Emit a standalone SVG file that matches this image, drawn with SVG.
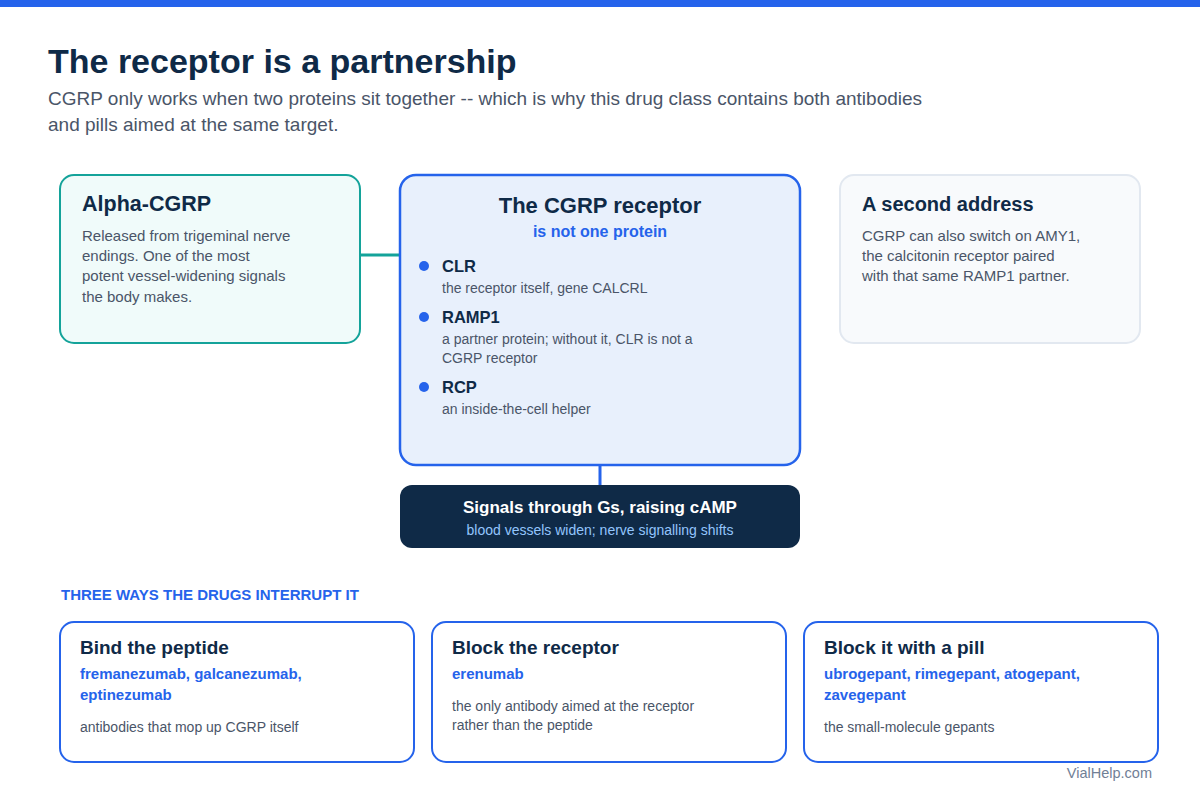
<svg xmlns="http://www.w3.org/2000/svg" width="1200" height="800" viewBox="0 0 1200 800">
<style>
text{font-family:"Liberation Sans",Arial,sans-serif}
.h{font-weight:bold;fill:#0f2a47}
.b{fill:#4a5568;font-size:15px}
.s{fill:#4a5568;font-size:14px}
.bl{fill:#2563eb;font-weight:bold}
.card{fill:#ffffff;stroke:#2563eb;stroke-width:2}
</style>
<rect x="0" y="0" width="1200" height="800" fill="#ffffff"/>
<rect x="0" y="0" width="1200" height="7" fill="#2563eb"/>
<text x="48" y="73" class="h" font-size="34">The receptor is a partnership</text>
<text x="48" y="105" fill="#4a5568" font-size="19">CGRP only works when two proteins sit together -- which is why this drug class contains both antibodies</text>
<text x="48" y="131" fill="#4a5568" font-size="19">and pills aimed at the same target.</text>

<g id="connectors">
<line x1="360" y1="255" x2="400" y2="255" stroke="#14a39a" stroke-width="3"/>
<line x1="600" y1="465" x2="600" y2="485" stroke="#2563eb" stroke-width="3"/>
</g>

<g id="alpha-cgrp">
<rect x="60" y="175" width="300" height="168" rx="14" fill="#f0fbfa" stroke="#14a39a" stroke-width="2"/>
<text x="82" y="211" class="h" font-size="21.5">Alpha-CGRP</text>
<text x="82" y="241" class="b">Released from trigeminal nerve</text>
<text x="82" y="261" class="b">endings. One of the most</text>
<text x="82" y="281" class="b">potent vessel-widening signals</text>
<text x="82" y="302" class="b">the body makes.</text>
</g>

<g id="receptor">
<rect x="400" y="175" width="400" height="290" rx="16" fill="#e8f0fc" stroke="#2563eb" stroke-width="2.5"/>
<text x="600" y="213" class="h" font-size="22" text-anchor="middle">The CGRP receptor</text>
<text x="600" y="237" class="bl" font-size="16" text-anchor="middle">is not one protein</text>
<circle cx="424" cy="266" r="5" fill="#2563eb"/>
<text x="442" y="272" class="h" font-size="16.5">CLR</text>
<text x="442" y="293" class="s">the receptor itself, gene CALCRL</text>
<circle cx="424" cy="317" r="5" fill="#2563eb"/>
<text x="442" y="323" class="h" font-size="16.5">RAMP1</text>
<text x="442" y="344" class="s">a partner protein; without it, CLR is not a</text>
<text x="442" y="363" class="s">CGRP receptor</text>
<circle cx="424" cy="387" r="5" fill="#2563eb"/>
<text x="442" y="393" class="h" font-size="16.5">RCP</text>
<text x="442" y="414" class="s">an inside-the-cell helper</text>
</g>

<g id="signal">
<rect x="400" y="485" width="400" height="63" rx="12" fill="#0f2a47"/>
<text x="600" y="513" fill="#ffffff" font-weight="bold" font-size="17" text-anchor="middle">Signals through Gs, raising cAMP</text>
<text x="600" y="535" fill="#93c5fd" font-size="14" text-anchor="middle">blood vessels widen; nerve signalling shifts</text>
</g>

<g id="second-address">
<rect x="840" y="175" width="300" height="168" rx="14" fill="#f8fafc" stroke="#e2e8f0" stroke-width="2"/>
<text x="862" y="211" class="h" font-size="20">A second address</text>
<text x="862" y="241" class="b">CGRP can also switch on AMY1,</text>
<text x="862" y="261" class="b">the calcitonin receptor paired</text>
<text x="862" y="281" class="b">with that same RAMP1 partner.</text>
</g>

<text x="61" y="600" class="bl" font-size="15">THREE WAYS THE DRUGS INTERRUPT IT</text>

<g id="bind-peptide">
<rect x="60" y="622" width="354" height="140" rx="14" class="card"/>
<text x="80" y="654" class="h" font-size="19">Bind the peptide</text>
<text x="80" y="679" class="bl" font-size="15">fremanezumab, galcanezumab,</text>
<text x="80" y="700" class="bl" font-size="15">eptinezumab</text>
<text x="80" y="732" class="s" font-size="14.5">antibodies that mop up CGRP itself</text>
</g>

<g id="block-receptor">
<rect x="432" y="622" width="354" height="140" rx="14" class="card"/>
<text x="452" y="654" class="h" font-size="19">Block the receptor</text>
<text x="452" y="679" class="bl" font-size="15">erenumab</text>
<text x="452" y="711" class="s" font-size="14.5">the only antibody aimed at the receptor</text>
<text x="452" y="730" class="s" font-size="14.5">rather than the peptide</text>
</g>

<g id="block-pill">
<rect x="804" y="622" width="354" height="140" rx="14" class="card"/>
<text x="824" y="654" class="h" font-size="19">Block it with a pill</text>
<text x="824" y="679" class="bl" font-size="15">ubrogepant, rimegepant, atogepant,</text>
<text x="824" y="700" class="bl" font-size="15">zavegepant</text>
<text x="824" y="732" class="s" font-size="14.5">the small-molecule gepants</text>
</g>

<text x="1152" y="778" fill="#718096" font-size="14.5" text-anchor="end">VialHelp.com</text>
</svg>
